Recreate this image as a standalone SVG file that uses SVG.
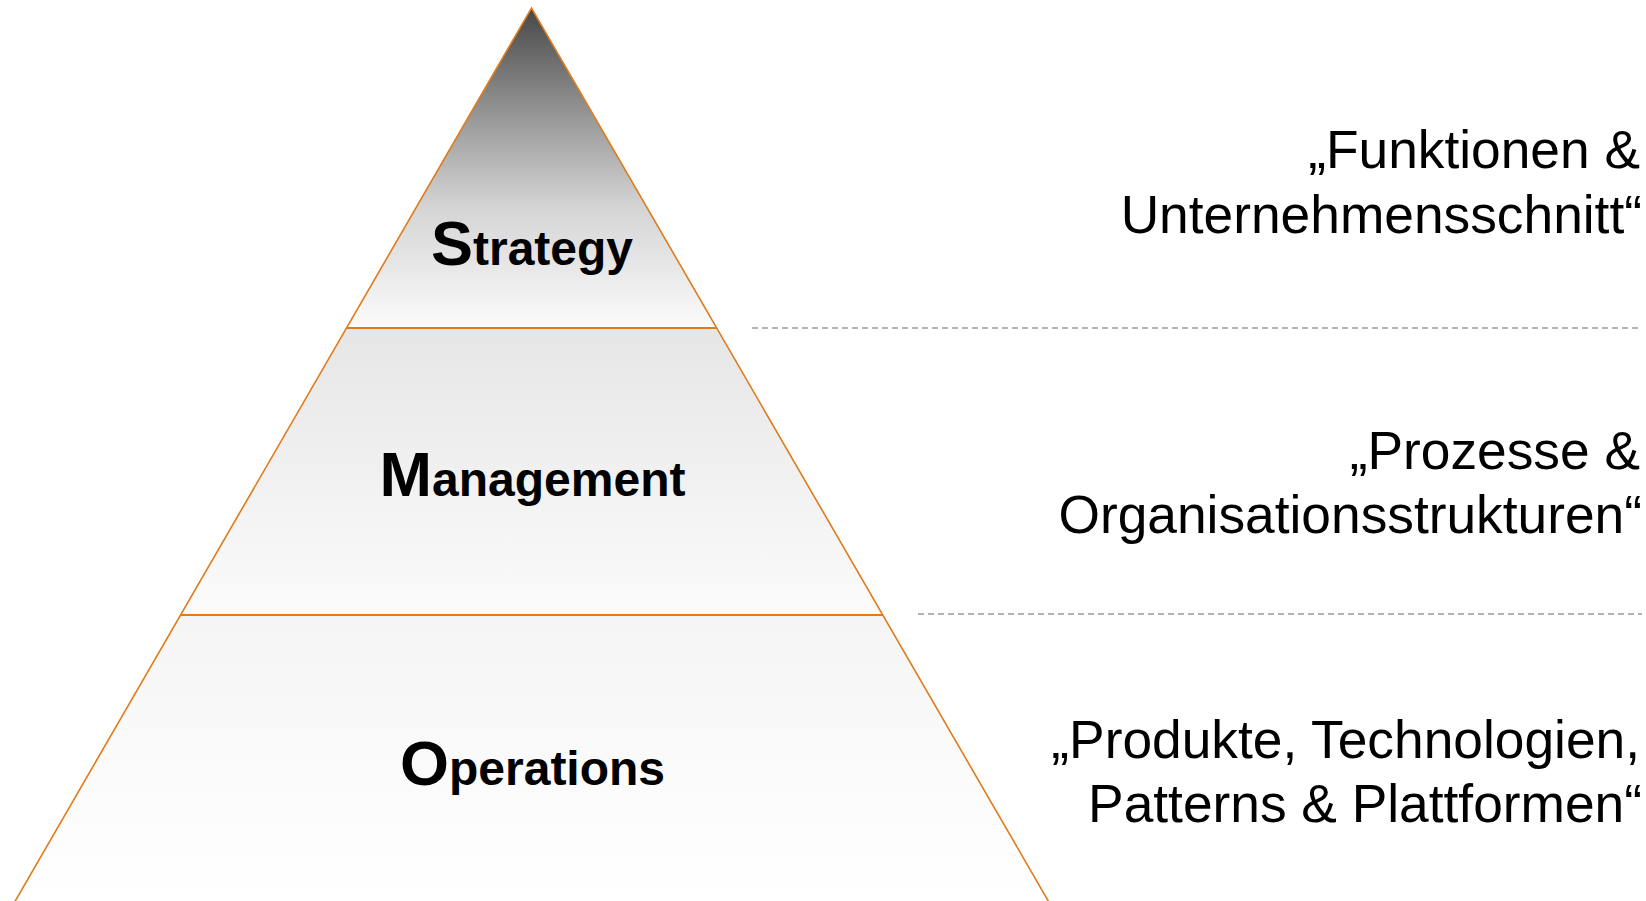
<svg xmlns="http://www.w3.org/2000/svg" width="1646" height="901" viewBox="0 0 1646 901">
<style>
.lvl{font-family:"Liberation Sans",Arial,sans-serif;font-weight:bold;fill:#000;text-anchor:middle}
.cap{font-size:63px}
.low{font-size:48px}
.note{font-family:"Liberation Sans",Arial,sans-serif;font-size:53.3px;fill:#000;text-anchor:end}
.edge{fill:none;stroke:#e07b1a;stroke-width:1.6}
.sep{stroke:#e07b1a;stroke-width:2.2}
.dash{stroke:#9a9a9a;stroke-width:1.5;stroke-dasharray:6 4}
</style>
<defs>
<linearGradient id="gTop" gradientUnits="userSpaceOnUse" x1="0" y1="8" x2="0" y2="328">
<stop offset="0" stop-color="#474747"/>
<stop offset="0.35" stop-color="#9a9a9a"/>
<stop offset="0.62" stop-color="#d4d4d4"/>
<stop offset="1" stop-color="#fbfbfb"/>
</linearGradient>
<linearGradient id="gMid" gradientUnits="userSpaceOnUse" x1="0" y1="328" x2="0" y2="615">
<stop offset="0" stop-color="#e6e6e6"/>
<stop offset="1" stop-color="#fbfbfb"/>
</linearGradient>
<linearGradient id="gBot" gradientUnits="userSpaceOnUse" x1="0" y1="615" x2="0" y2="901">
<stop offset="0" stop-color="#f5f5f5"/>
<stop offset="1" stop-color="#ffffff"/>
</linearGradient>
</defs>
<g id="pyramid">
<g id="strategy">
<polygon points="531.5,8 716.7,328 346.7,328" fill="url(#gTop)"/>
<text class="lvl" x="532" y="265"><tspan class="cap">S</tspan><tspan class="low">trategy</tspan></text>
</g>
<g id="management">
<polygon points="346.7,328 716.7,328 882.8,615 180.5,615" fill="url(#gMid)"/>
<text class="lvl" x="532.5" y="496"><tspan class="cap">M</tspan><tspan class="low">anagement</tspan></text>
</g>
<g id="operations">
<polygon points="180.5,615 882.8,615 1050,904 13.5,904" fill="url(#gBot)"/>
<text class="lvl" x="532.5" y="785"><tspan class="cap">O</tspan><tspan class="low">perations</tspan></text>
</g>
<polyline class="edge" points="13.5,904 531.5,8 1050,904"/>
<line class="sep" x1="346.7" y1="328" x2="716.7" y2="328"/>
<line class="sep" x1="180.5" y1="615" x2="882.8" y2="615"/>
</g>
<g id="connectors">
<line class="dash" x1="752" y1="328" x2="1642" y2="328"/>
<line class="dash" x1="918" y1="614" x2="1642" y2="614"/>
</g>
<g id="note-strategy">
<text class="note" x="1640" y="168">„Funktionen &amp;</text>
<text class="note" x="1642" y="233">Unternehmensschnitt“</text>
</g>
<g id="note-management">
<text class="note" x="1640" y="469">„Prozesse &amp;</text>
<text class="note" x="1642" y="533">Organisationsstrukturen“</text>
</g>
<g id="note-operations">
<text class="note" x="1640" y="758">„Produkte, Technologien,</text>
<text class="note" x="1642" y="822">Patterns &amp; Plattformen“</text>
</g>
</svg>
